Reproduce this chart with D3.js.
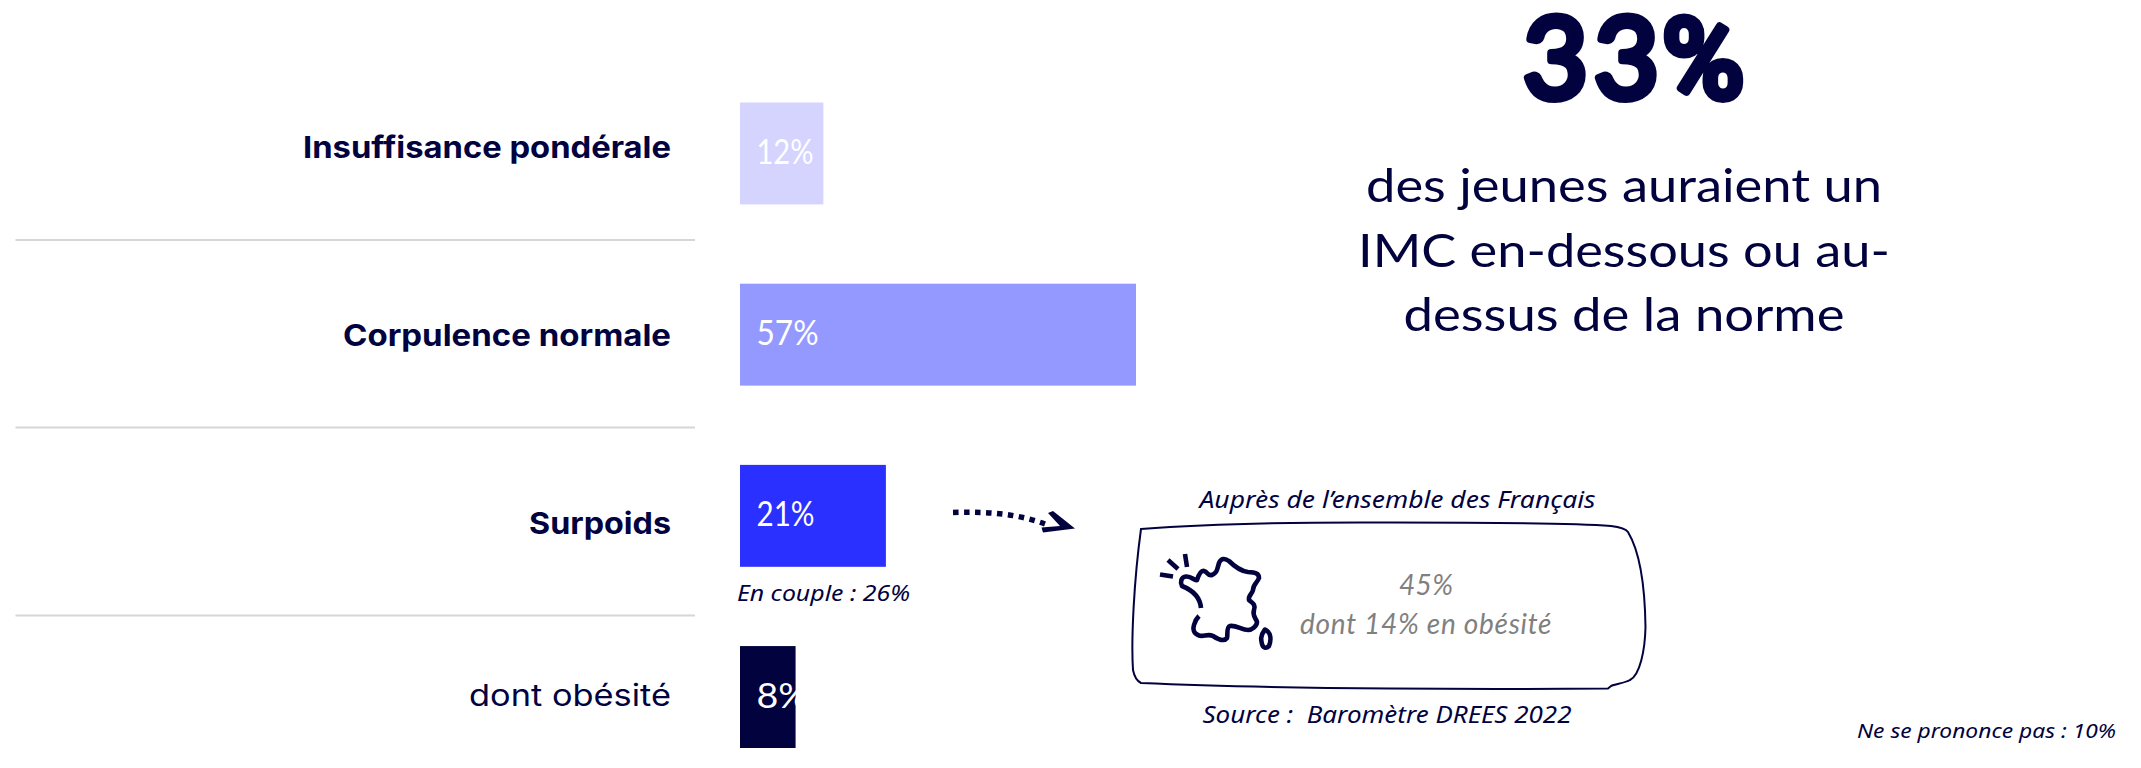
<!DOCTYPE html>
<html lang="fr">
<head>
    <meta charset="UTF-8">
    <title>IMC des jeunes</title>
    <script src="https://d3js.org/d3.v7.min.js"></script>
    <style>
        html, body { margin: 0; padding: 0; background: #fff; }
        svg { display: block; }
    </style>
</head>
<body>
    <div class="chart"></div>
    <script>
        const categories = ['Insuffisance pondérale', 'Corpulence normale', 'Surpoids', 'dont obésité'];
        const values = [12, 57, 21, 8];
        const valueLabels = ['12%', '57%', '21%', '8%'];
        const barColors = ['#d4d4ff', '#9499ff', '#2a30ff', '#02023f'];
        const categoryWeights = [700, 700, 700, 400];
        const headlineDigits = '33';
        const headlineSign = '%';
        const headlineText = ['des jeunes auraient un', 'IMC en-dessous ou au-', 'dessus de la norme'];

        const width = 2141;
        const height = 768;
        const navy = '#02023f';

        const svg = d3.select('.chart')
            .append('svg')
            .attr('width', width)
            .attr('height', height);

        const xScale = d3.scaleLinear().domain([0, 57]).range([0, 396]);
        const yScale = d3.scaleBand()
            .domain(categories)
            .range([102.5, 748])
            .paddingInner(0.4375);

        // separators
        svg.selectAll('line.sep')
            .data([240, 427.5, 615.5])
            .enter()
            .append('line')
            .attr('class', 'sep')
            .attr('x1', 15.5)
            .attr('x2', 695)
            .attr('y1', d => d)
            .attr('y2', d => d)
            .attr('stroke', '#d6d6d6')
            .attr('stroke-width', 2);

        // bars
        svg.selectAll('rect.bar')
            .data(categories)
            .enter()
            .append('rect')
            .attr('class', 'bar')
            .attr('x', 740)
            .attr('y', d => yScale(d))
            .attr('width', (d, i) => xScale(values[i]))
            .attr('height', yScale.bandwidth())
            .attr('fill', (d, i) => barColors[i]);

        const labelBaselines = [158.3, 346.3, 534.3, 706.3];
        const labelWidths = [368, 328, 142, 202];
        svg.selectAll('text.cat')
            .data(categories)
            .enter()
            .append('text')
            .attr('class', 'cat')
            .attr('x', 671)
            .attr('y', (d, i) => labelBaselines[i])
            .attr('text-anchor', 'end')
            .attr('font-family', 'Inter, Lato, sans-serif')
            .attr('font-size', 30)
            .attr('font-weight', (d, i) => categoryWeights[i])
            .attr('fill', navy)
            .attr('textLength', (d, i) => labelWidths[i])
            .attr('lengthAdjust', 'spacingAndGlyphs')
            .text(d => d);

        const valueWidths = [57, 62, 58, 52];
        svg.selectAll('text.val')
            .data(categories)
            .enter()
            .append('text')
            .attr('class', 'val')
            .attr('x', 756.5)
            .attr('y', d => yScale(d) + 61.5)
            .attr('font-family', '"Liberation Sans Narrow", Lato, sans-serif')
            .attr('font-size', 35)
            .attr('fill', '#fff')
            .attr('textLength', (d, i) => valueWidths[i])
            .attr('lengthAdjust', 'spacingAndGlyphs')
            .text((d, i) => valueLabels[i]);

        // small notes
        function note(txt, x, y, w, size) {
            return svg.append('text')
                .attr('x', x)
                .attr('y', y)
                .attr('font-family', '"Noto Sans", Lato, sans-serif')
                .attr('font-style', 'italic')
                .attr('font-size', size)
                .attr('fill', navy)
                .attr('textLength', w)
                .attr('lengthAdjust', 'spacingAndGlyphs')
                .style('white-space', 'pre')
                .text(txt);
        }
        note('En couple : 26%', 737, 601, 173, 22);
        note('Auprès de l’ensemble des Français', 1199.5, 508, 396, 23);
        note('Source :  Baromètre DREES 2022', 1202.5, 723, 369, 23);
        note('Ne se prononce pas : 10%', 1857, 738, 259, 20.5);

        // big number, round stroke gives the marker look
        const big = svg.append('text')
            .attr('x', 1523)
            .attr('y', 98)
            .attr('font-family', 'Lato, sans-serif')
            .attr('font-size', 112)
            .attr('fill', navy)
            .attr('stroke', navy)
            .attr('stroke-width', 8)
            .attr('stroke-linejoin', 'round');
        big.append('tspan')
            .attr('letter-spacing', 6)
            .text(headlineDigits);
        big.append('tspan')
            .attr('font-family', 'Roboto, sans-serif')
            .attr('dx', -3)
            .text(headlineSign);

        const paraBaselines = [202, 267, 331];
        const paraWidths = [516, 532, 441];
        svg.selectAll('text.para')
            .data(headlineText)
            .enter()
            .append('text')
            .attr('class', 'para')
            .attr('x', 1624)
            .attr('y', (d, i) => paraBaselines[i])
            .attr('text-anchor', 'middle')
            .attr('font-family', 'Lato, sans-serif')
            .attr('font-size', 46)
            .attr('fill', navy)
            .attr('textLength', (d, i) => paraWidths[i])
            .attr('lengthAdjust', 'spacingAndGlyphs')
            .text(d => d);

        // dotted arrow
        svg.append('path')
            .attr('d', 'M953,512.5 C985,511.5 1015,513 1045,524')
            .attr('fill', 'none')
            .attr('stroke', navy)
            .attr('stroke-width', 5.5)
            .attr('stroke-dasharray', '5.5 5.5');
        svg.append('path')
            .attr('d', 'M1048,513 L1053,511 L1075,528.5 L1043,532.5 L1041.5,527.5 L1060,526 Z')
            .attr('fill', navy);

        // hand drawn box
        svg.append('path')
            .attr('d', 'M1141,529 C1220,523 1300,522 1391,522.5 C1470,522.5 1570,523 1611,526 C1620,527 1626,529 1628,532 C1640,552 1645,590 1645.5,627 C1645,650 1640,675 1630,680 C1625,683 1615,684 1611,686 L1608,688.5 C1500,689.5 1290,689.5 1141,683 C1137,681 1134,675 1133,670 C1131,640 1134,580 1141,529 Z')
            .attr('fill', 'none')
            .attr('stroke', navy)
            .attr('stroke-width', 2);

        // map of France
        const mapPaths = [
            'M1201,608 C1200,596 1192,590 1182,586 C1180,582 1181,577 1186,576.5 C1192,576 1194,581 1197,580 C1199,574 1201,570 1204,571 C1208,572 1207,576 1212,575 C1217,573 1217,570 1219,563 C1221,558 1225,558 1229,561 C1235,567 1240,571 1248,572 C1255,572.5 1259,573 1259,578 C1257,583 1253,585 1253,590 C1252,594 1248,596 1249,600 C1252,603 1256,604 1254,610 C1252,616 1256,618 1257,622 C1257,626 1252,630 1248,630 C1242,630 1236,625 1230,626 C1226,627 1228,636 1227,638 C1224,642 1219,640 1213,636 C1207,633 1203,638 1198,635 C1193,633 1193,628 1194,625 C1195,621 1197,618 1199,616',
            'M1265,629.5 C1270,632 1272,638 1269,646 C1266,649 1263,648 1262,644 C1261,640 1260,636 1265,629.5 Z',
            'M1168,560 L1178,569',
            'M1185,554 L1187,567',
            'M1160,574.5 L1173,576.5'
        ];
        svg.selectAll('path.map')
            .data(mapPaths)
            .enter()
            .append('path')
            .attr('class', 'map')
            .attr('d', d => d)
            .attr('fill', 'none')
            .attr('stroke', navy)
            .attr('stroke-width', 4.6)
            .attr('stroke-linejoin', 'round');

        // grey hand written text
        function grey(txt, x, y, w) {
            svg.append('text')
                .attr('x', x)
                .attr('y', y)
                .attr('font-family', 'Lato, sans-serif')
                .attr('font-style', 'italic')
                .attr('font-size', 28)
                .attr('fill', '#808080')
                .attr('textLength', w)
                .attr('lengthAdjust', 'spacing')
                .text(txt);
        }
        grey('45%', 1399, 595, 54);
        grey('dont 14% en obésité', 1300, 634, 251.5);
    </script>
</body>
</html>
